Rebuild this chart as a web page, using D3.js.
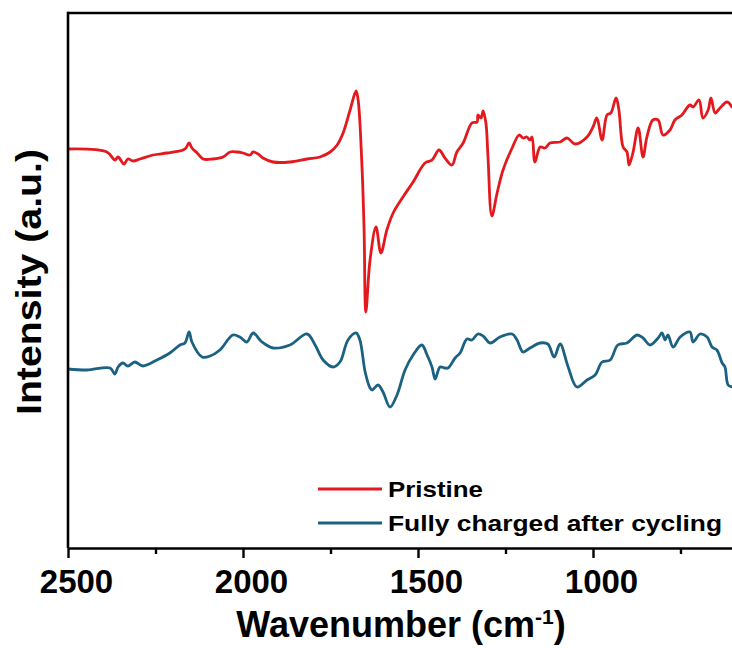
<!DOCTYPE html>
<html>
<head>
<meta charset="utf-8">
<script src="https://cdn.jsdelivr.net/npm/d3@7"></script>
<style>
  html, body { margin: 0; padding: 0; background: #ffffff; }
  svg { display: block; font-family: "Liberation Sans", Arial, Helvetica, sans-serif; font-weight: bold; }
</style>
</head>
<body>
<script>
// ---- Data ----
const seriesNames = ["Pristine", "Fully charged after cycling"];
const seriesColors = ["#e3191d", "#1b6182"];

const xMajorTicks = [2500, 2000, 1500, 1000];
const xMinorTicks = [2250, 1750, 1250, 750];

const pristineWn = [2500,2389,2366,2357,2340,2329,2314,2294,2257,2217,2171,2163,2154,2146,2131,2114,2086,2057,2037,2017,2000,1980,1971,1957,1943,1914,1866,1817,1780,1751,1731,1714,1694,1677,1671,1660,1654,1649,1637,1620,1606,1589,1571,1543,1514,1480,1460,1440,1423,1403,1389,1371,1346,1331,1329,1320,1314,1306,1300,1289,1274,1257,1231,1211,1200,1189,1180,1174,1166,1151,1137,1123,1094,1074,1051,1017,1000,989,974,960,949,934,926,914,903,897,886,871,857,846,829,814,800,780,766,746,723,714,697,686,671,663,651,637,617,603];
const pristineI = [399,396,388,391,384,389,387,389,393,395,398,400,405,400,395,389,389,391,396,396,395,393,396,394,390,386,386,389,391,396,403,415,438,457,448,381,318,236,288,321,295,318,335,351,366,385,388,398,390,383,396,405,425,426,433,430,437,425,391,332,355,378,400,413,410,411,408,411,386,401,400,405,406,410,404,411,421,430,408,433,435,450,438,401,396,383,395,420,391,411,428,428,413,418,428,433,443,441,448,430,438,450,435,440,446,441];

const cycledWn = [2500,2446,2380,2366,2357,2343,2329,2309,2286,2246,2209,2180,2166,2154,2146,2117,2094,2066,2029,2009,1989,1971,1946,1914,1866,1817,1794,1771,1743,1723,1700,1677,1666,1651,1637,1631,1614,1600,1580,1560,1537,1514,1489,1474,1460,1451,1437,1423,1414,1394,1380,1360,1346,1329,1314,1294,1266,1231,1217,1200,1180,1151,1129,1111,1094,1071,1046,1017,994,974,951,929,903,874,857,837,814,803,794,786,771,751,723,714,694,674,660,646,631,623,614,603];
const cycledI = [179,178,180,174,181,185,182,186,182,188,195,203,205,216,206,191,192,198,213,211,206,215,206,200,203,214,203,188,181,186,208,215,208,176,160,158,163,156,141,153,178,193,203,193,181,169,181,180,180,190,195,209,208,214,212,205,211,214,208,196,200,205,204,191,204,181,161,168,173,186,188,203,205,213,210,203,210,215,208,213,201,211,216,206,214,211,201,198,185,181,163,161];

const seriesData = [
  pristineWn.map((w, i) => ({ x: w, y: pristineI[i] })),
  cycledWn.map((w, i) => ({ x: w, y: cycledI[i] }))
];

// ---- Layout ----
const W = 732, H = 648;
const mLeft = 68, mTop = 13, mBottom = 548, mRight = 740;

const svg = d3.select("body").append("svg")
  .attr("width", W).attr("height", H);

const x = d3.scaleLinear().domain([2500, 580]).range([mLeft, mRight]);
const y = d3.scaleLinear().domain([0, 535]).range([mBottom, mTop]);

svg.append("clipPath").attr("id", "plotclip")
  .append("rect").attr("x", mLeft).attr("y", mTop).attr("width", mRight - mLeft).attr("height", mBottom - mTop);

// Data lines
const line = d3.line().x(d => x(d.x)).y(d => y(d.y)).curve(d3.curveCatmullRom.alpha(0.5));
svg.append("g").attr("clip-path", "url(#plotclip)")
  .selectAll("path").data(seriesData).join("path")
  .attr("d", line)
  .attr("fill", "none")
  .attr("stroke", (d, i) => seriesColors[i])
  .attr("stroke-width", 2.8)
  .attr("stroke-linejoin", "round")
  .attr("stroke-linecap", "round");

// Frame: top and left
svg.append("line").attr("x1", mLeft).attr("x2", W + 2).attr("y1", mTop).attr("y2", mTop)
  .attr("stroke", "#000").attr("stroke-width", 2.6);
svg.append("line").attr("x1", mLeft).attr("x2", mLeft).attr("y1", mTop - 1.3).attr("y2", mBottom)
  .attr("stroke", "#000").attr("stroke-width", 2.6);

// X axis - major
const xAxis = svg.append("g").attr("transform", `translate(0,${mBottom})`)
  .call(d3.axisBottom(x).tickValues(xMajorTicks).tickSize(10).tickSizeOuter(0).tickFormat(d3.format("d")));
xAxis.select(".domain").attr("stroke-width", 2.6);
xAxis.selectAll(".tick line").attr("stroke-width", 2.4);
xAxis.selectAll(".tick text")
  .attr("x", 8)
  .attr("y", 45).attr("dy", 0)
  .attr("font-size", 33).attr("font-weight", "bold")
  .attr("font-family", "'Liberation Sans', Arial, sans-serif")
  .attr("fill", "#000");

// X axis - minor
const xMinor = svg.append("g").attr("transform", `translate(0,${mBottom})`)
  .call(d3.axisBottom(x).tickValues(xMinorTicks).tickSize(6).tickSizeOuter(0).tickFormat(""));
xMinor.select(".domain").remove();
xMinor.selectAll(".tick line").attr("stroke-width", 2.4);

// X title
const xt = svg.append("text")
  .attr("x", 401).attr("y", 637)
  .attr("text-anchor", "middle")
  .attr("font-size", 36)
  .attr("fill", "#000");
xt.append("tspan").text("Wavenumber (cm");
xt.append("tspan").attr("dy", -13).attr("font-size", 21).text("-1");
xt.append("tspan").attr("dy", 13).text(")");

// Y title
svg.append("text")
  .attr("transform", "translate(41,282) rotate(-90)")
  .attr("text-anchor", "middle")
  .attr("font-size", 35)
  .attr("textLength", 266)
  .attr("lengthAdjust", "spacingAndGlyphs")
  .attr("fill", "#000")
  .text("Intensity (a.u.)");

// Legend
const legendY = [489, 523];
const legendW = [95, 334];
const lg = svg.append("g");
seriesNames.forEach((name, i) => {
  lg.append("line")
    .attr("x1", 318).attr("x2", 382)
    .attr("y1", legendY[i]).attr("y2", legendY[i])
    .attr("stroke", seriesColors[i]).attr("stroke-width", 2.8);
  lg.append("text")
    .attr("x", 388).attr("y", legendY[i] + 8)
    .attr("font-size", 22)
    .attr("textLength", legendW[i])
    .attr("lengthAdjust", "spacingAndGlyphs")
    .attr("fill", "#000")
    .text(name);
});
</script>
</body>
</html>
